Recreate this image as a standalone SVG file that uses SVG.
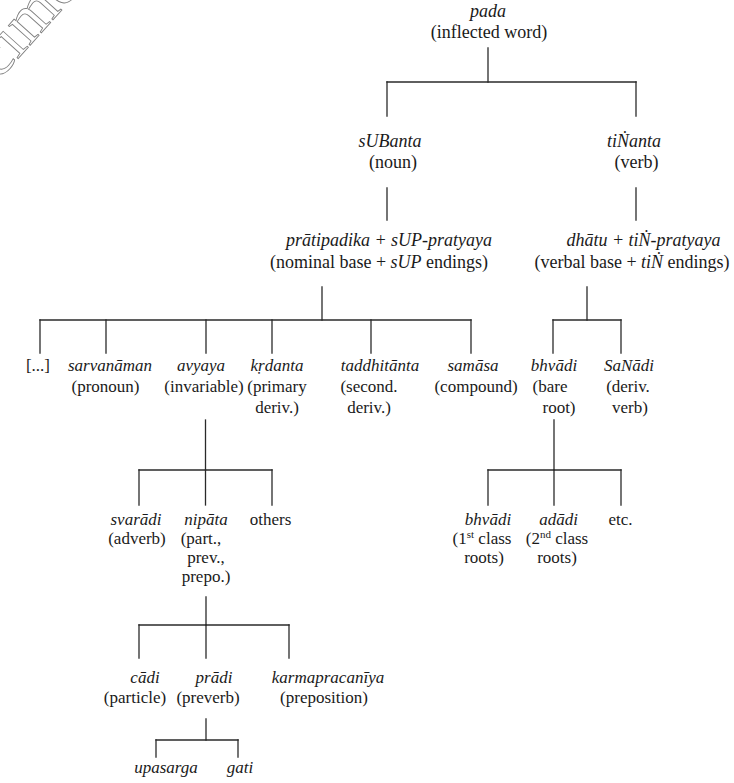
<svg xmlns="http://www.w3.org/2000/svg" width="734" height="783" viewBox="0 0 734 783">
<style>
text{font-family:"Liberation Serif","Times New Roman",serif;fill:#1a1a1a;text-anchor:middle}
.t{font-size:18px}
.s{font-size:17px}
.i{font-style:italic}
.sup{font-size:11px}
#connectors line{stroke:#2a2a2a;stroke-width:1.3;stroke-linecap:square}
.wm{font-family:"Liberation Serif",serif;font-size:64px;fill:none;stroke:#808080;stroke-width:0.9;text-anchor:start}
</style>
<rect width="734" height="783" fill="#fff"/>
<text class="wm" transform="translate(-66,152) rotate(-48)">Specimen</text>
<g id="connectors">
<line x1="488" y1="48" x2="488" y2="82"/>
<line x1="387" y1="82" x2="636" y2="82"/>
<line x1="387" y1="82" x2="387" y2="116"/>
<line x1="636" y1="82" x2="636" y2="116"/>
<line x1="387" y1="188" x2="387" y2="220"/>
<line x1="636" y1="188" x2="636" y2="220"/>
<line x1="322" y1="287" x2="322" y2="320"/>
<line x1="40" y1="320" x2="471" y2="320"/>
<line x1="40" y1="320" x2="40" y2="353"/>
<line x1="106" y1="320" x2="106" y2="353"/>
<line x1="206" y1="320" x2="206" y2="353"/>
<line x1="272" y1="320" x2="272" y2="353"/>
<line x1="371" y1="320" x2="371" y2="353"/>
<line x1="471" y1="320" x2="471" y2="353"/>
<line x1="587" y1="287" x2="587" y2="320"/>
<line x1="553" y1="320" x2="621" y2="320"/>
<line x1="553" y1="320" x2="553" y2="353"/>
<line x1="621" y1="320" x2="621" y2="353"/>
<line x1="205.5" y1="420" x2="205.5" y2="470"/>
<line x1="139" y1="470" x2="272" y2="470"/>
<line x1="139" y1="470" x2="139" y2="505"/>
<line x1="205.5" y1="470" x2="205.5" y2="505"/>
<line x1="272" y1="470" x2="272" y2="505"/>
<line x1="554" y1="420" x2="554" y2="470"/>
<line x1="488" y1="470" x2="621" y2="470"/>
<line x1="488" y1="470" x2="488" y2="505"/>
<line x1="554" y1="470" x2="554" y2="505"/>
<line x1="621" y1="470" x2="621" y2="505"/>
<line x1="206" y1="597" x2="206" y2="625"/>
<line x1="139" y1="625" x2="289" y2="625"/>
<line x1="139" y1="625" x2="139" y2="658"/>
<line x1="206" y1="625" x2="206" y2="658"/>
<line x1="289" y1="625" x2="289" y2="658"/>
<line x1="206" y1="719" x2="206" y2="740"/>
<line x1="156" y1="740" x2="238" y2="740"/>
<line x1="156" y1="740" x2="156" y2="757"/>
<line x1="238" y1="740" x2="238" y2="757"/>
</g>
<g id="pada">
<text class="t i" x="488" y="17">pada</text>
<text class="t" x="489" y="38">(inflected word)</text>
</g>
<g id="subanta">
<text class="t i" x="390" y="147">sUBanta</text>
<text class="t" x="393" y="167.5">(noun)</text>
</g>
<g id="tinanta">
<text class="t i" x="634" y="147">tiṄanta</text>
<text class="t" x="636.5" y="167.5">(verb)</text>
</g>
<g id="pratipadika">
<text class="t i" x="389" y="245.5">prātipadika + sUP-pratyaya</text>
<text class="t" x="379" y="267.5">(nominal base + <tspan class="i">sUP</tspan> endings)</text>
</g>
<g id="dhatu">
<text class="t i" x="643.5" y="245.5">dhātu + tiṄ-pratyaya</text>
<text class="t" x="632" y="267.5">(verbal base + <tspan class="i">tiṄ</tspan> endings)</text>
</g>
<g id="etc-nominal">
<text class="s" x="38" y="371">[...]</text>
</g>
<g id="sarvanaman">
<text class="s i" x="110" y="371">sarvanāman</text>
<text class="s" x="105.5" y="392">(pronoun)</text>
</g>
<g id="avyaya">
<text class="s i" x="201" y="371">avyaya</text>
<text class="s" x="204" y="392">(invariable)</text>
</g>
<g id="krdanta">
<text class="s i" x="277" y="371">kṛdanta</text>
<text class="s" x="277" y="392">(primary</text>
<text class="s" x="277" y="413">deriv.)</text>
</g>
<g id="taddhitanta">
<text class="s i" x="380" y="371">taddhitānta</text>
<text class="s" x="369" y="392">(second.</text>
<text class="s" x="369" y="413">deriv.)</text>
</g>
<g id="samasa">
<text class="s i" x="473" y="371">samāsa</text>
<text class="s" x="476" y="392">(compound)</text>
</g>
<g id="bhvadi-bare">
<text class="s i" x="554" y="371">bhvādi</text>
<text class="s" x="550" y="392">(bare</text>
<text class="s" x="559" y="413">root)</text>
</g>
<g id="sanadi">
<text class="s i" x="629" y="371">SaNādi</text>
<text class="s" x="628" y="392">(deriv.</text>
<text class="s" x="630" y="413">verb)</text>
</g>
<g id="svaradi">
<text class="s i" x="136" y="525">svarādi</text>
<text class="s" x="137" y="544">(adverb)</text>
</g>
<g id="nipata">
<text class="s i" x="206" y="525">nipāta</text>
<text class="s" x="201" y="544">(part.,</text>
<text class="s" x="206" y="563">prev.,</text>
<text class="s" x="206" y="582">prepo.)</text>
</g>
<g id="others">
<text class="s" x="270.5" y="525">others</text>
</g>
<g id="bhvadi-class">
<text class="s i" x="488" y="525">bhvādi</text>
<text class="s" x="482" y="544">(1<tspan class="sup" dy="-6">st</tspan><tspan dy="6"> class</tspan></text>
<text class="s" x="484" y="563">roots)</text>
</g>
<g id="adadi">
<text class="s i" x="558.5" y="525">adādi</text>
<text class="s" x="557" y="544">(2<tspan class="sup" dy="-6">nd</tspan><tspan dy="6"> class</tspan></text>
<text class="s" x="557" y="563">roots)</text>
</g>
<g id="etc-verbal">
<text class="s" x="620.5" y="525">etc.</text>
</g>
<g id="cadi">
<text class="s i" x="145" y="683">cādi</text>
<text class="s" x="135" y="702.5">(particle)</text>
</g>
<g id="pradi">
<text class="s i" x="214" y="683">prādi</text>
<text class="s" x="208" y="702.5">(preverb)</text>
</g>
<g id="karmapracaniya">
<text class="s i" x="328" y="683">karmapracanīya</text>
<text class="s" x="324" y="702.5">(preposition)</text>
</g>
<g id="upasarga">
<text class="s i" x="166" y="773">upasarga</text>
</g>
<g id="gati">
<text class="s i" x="240" y="773">gati</text>
</g>
</svg>
